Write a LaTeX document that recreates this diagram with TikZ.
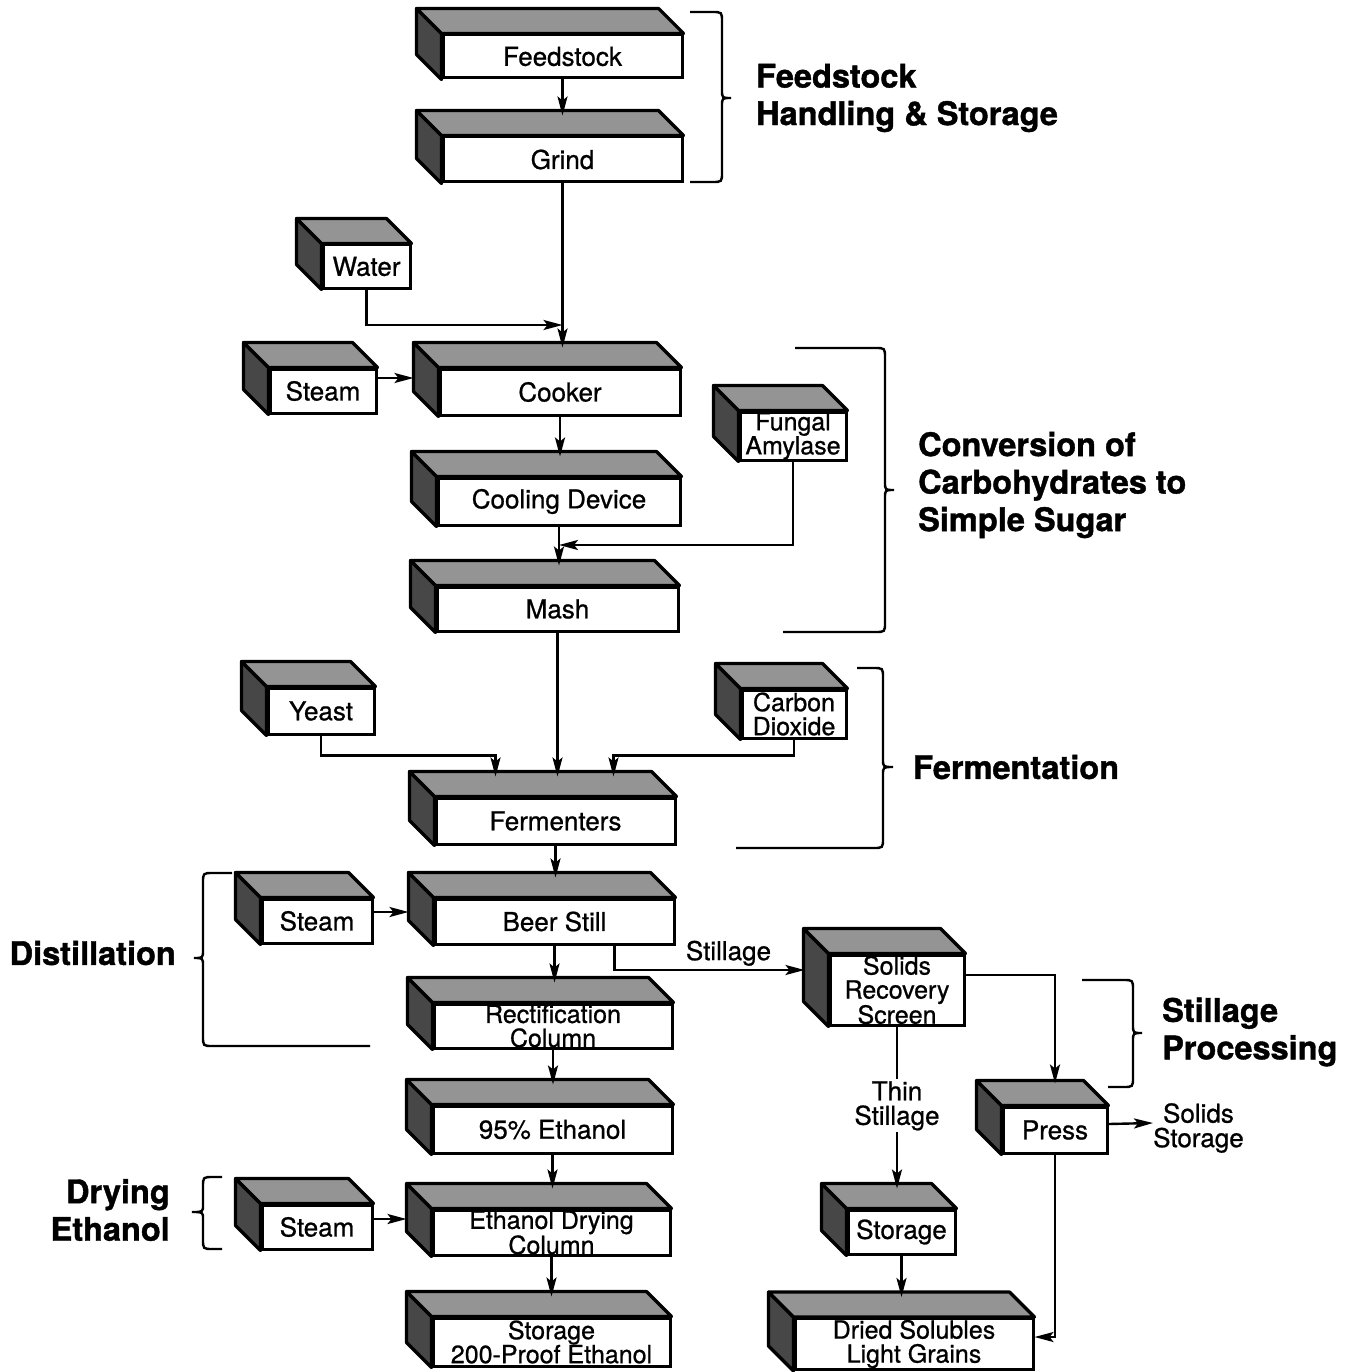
\documentclass[tikz,border=0pt]{standalone}
\usepackage{fontspec}
\setmainfont{TeX Gyre Heros}
\newfontfamily\boxfont{TeX Gyre Heros}[FakeBold=0.8]
\newfontfamily\heavyfont{TeX Gyre Heros}[FakeBold=1.2]
\usetikzlibrary{arrows.meta,calc}
\tikzset{>={Stealth[width=10pt,length=19pt,inset=4pt]}}
\tikzset{
  unit/.style={draw, line width=3pt, fill=white, inner sep=0pt, align=center,
    font=\boxfont\fontsize{26}{22.5}\selectfont},
  twoline/.style={font=\boxfont\fontsize{25}{24}\selectfont},
  flow/.style={->, line width=2.4pt},
  brace/.style={line width=2.4pt},
  group/.style={font=\heavyfont\bfseries\fontsize{32.5}{37.5}\selectfont, inner sep=0pt},
  tag/.style={font=\boxfont\fontsize{26}{24.5}\selectfont, inner sep=0pt, align=center},
}
% shaded top and side of a box
\newcommand\extrude[1]{%
  \filldraw[line width=3.2pt, line join=round, fill=black!72] (#1.north west) -- ++(-25pt,25pt)
    -- ([shift={(-25pt,25pt)}]#1.south west) -- (#1.south west) -- cycle;
  \filldraw[line width=3.2pt, line join=round, fill=black!42] (#1.north west) -- ++(-25pt,25pt)
    -- ([shift={(-25pt,25pt)}]#1.north east) -- (#1.north east) -- cycle;}

\begin{document}
\begin{tikzpicture}[x=1pt,y=-1pt]
\useasboundingbox (0,0) rectangle (1354,1372);

\node[unit, minimum width=239, minimum height=43] (feed) at (562.5,56.5) {Feedstock};
\node[unit, minimum width=239, minimum height=45] (grind) at (562.5,159.5) {Grind};
\node[unit, minimum width=87, minimum height=43] (water) at (366.5,266.5) {Water};
\node[unit, minimum width=106, minimum height=44] (steamA) at (323,391) {Steam};
\node[unit, minimum width=240, minimum height=46] (cooker) at (560,392) {Cooker};
\node[unit, twoline, minimum width=106, minimum height=48] (fungal) at (793,436) {Fungal\\Amylase};
\node[unit, minimum width=242, minimum height=47] (cooling) at (559,501.5) {Cooling Device};
\node[unit, minimum width=241, minimum height=44] (mash) at (557.5,609) {Mash};
\node[unit, minimum width=106, minimum height=46] (yeast) at (321,711) {Yeast};
\node[unit, twoline, minimum width=104, minimum height=48] (carbon) at (794,714) {Carbon\\Dioxide};
\node[unit, minimum width=239, minimum height=46] (ferm) at (555.5,821) {Fermenters};
\node[unit, minimum width=110, minimum height=44] (steamB) at (317,921) {Steam};
\node[unit, minimum width=239, minimum height=45] (beer) at (554.5,921.5) {Beer Still};
\node[unit, twoline, minimum width=134, minimum height=70] (screen) at (897,990) {Solids\\Recovery\\Screen};
\node[unit, twoline, minimum width=238, minimum height=44] (rect) at (553,1026) {Rectification\\Column};
\node[unit, minimum width=239, minimum height=47] (eth95) at (552.5,1129.5) {95\% Ethanol};
\node[unit, minimum width=110, minimum height=44] (steamC) at (317,1227) {Steam};
\node[unit, twoline, minimum width=237, minimum height=45] (drycol) at (551.5,1232.5) {Ethanol Drying\\Column};
\node[unit, twoline, minimum width=237, minimum height=48] (store200) at (551.5,1342) {Storage\\200-Proof Ethanol};
\node[unit, minimum width=107, minimum height=44] (storeR) at (901.5,1232) {Storage};
\node[unit, twoline, minimum width=238, minimum height=51] (dried) at (914,1344) {Dried Solubles\\Light Grains};
\node[unit, minimum width=104, minimum height=46] (press) at (1055,1130) {Press};

\foreach \n in {feed,grind,water,steamA,cooker,fungal,cooling,mash,yeast,carbon,ferm,
  steamB,beer,screen,rect,eth95,steamC,drycol,store200,storeR,dried,press}
  \extrude{\n};

\node[tag, anchor=west] (solstore) at (1153,1128) {Solids\\Storage};

\draw[flow] (feed.south) -- ($(feed.south |- grind.north)+(0,-20)$);
\draw[flow] (grind.south) -- ($(grind.south |- cooker.north)+(0,-20)$);
\draw[flow] (water.south) |- (grind.south |- 0,325);
\draw[flow] ($(steamA.east)+(0,-13)$) -- ($(steamA.east -| cooker.west)+(-25,-13)$);
\draw[flow] (cooker.south) -- ($(cooker.south |- cooling.north)+(0,-20)$);
\draw[flow] (fungal.south) |- (cooling.south |- 0,545);
\draw[flow] (cooling.south) -- ($(cooling.south |- mash.north)+(0,-20)$);
\draw[flow] (mash.south) -- ($(mash.south |- ferm.north)+(0,-20)$);
\coordinate (fermtop) at ($(ferm.north)+(0,-20)$);
\draw[flow] (yeast.south) |- ($(fermtop)+(-60,-21)$) -- ($(fermtop)+(-60,0)$);
\draw[flow] (carbon.south) |- ($(fermtop)+(58,-21)$) -- ($(fermtop)+(58,0)$);
\draw[flow] (ferm.south) -- ($(ferm.south |- beer.north)+(0,-20)$);
\draw[flow] ($(steamB.east)+(0,-9)$) -- ($(steamB.east -| beer.west)+(-25,-9)$);
\draw[flow] (beer.south) -- ($(beer.south |- rect.north)+(0,-20)$);
\draw[flow] ($(beer.south)+(60,0)$) |- ($(screen.west)+(-24,-20)$)
  node[tag, pos=0.8, above=3pt] (stillage) {Stillage};
\draw[flow] (rect.south) -- ($(rect.south |- eth95.north)+(0,-20)$);
\draw[flow] (eth95.south) -- ($(eth95.south |- drycol.north)+(0,-20)$);
\draw[flow] ($(steamC.east)+(0,-8)$) -- ($(steamC.east -| drycol.west)+(-25,-8)$);
\draw[flow] (drycol.south) -- ($(drycol.south |- store200.north)+(0,-20)$);
\draw[flow] (screen.south) -- ($(screen.south |- storeR.north)+(0,-20)$)
  node[tag, pos=0.49, fill=white, inner sep=2pt] (thin) {Thin\\Stillage};
\draw[flow] ($(screen.east)+(0,-15)$) -| ($(press.north)+(0,-22)$);
\draw[flow] ($(press.east)+(0,-6)$) -- ($(solstore.west)+(0,-5)$);
\draw[flow] (press.south) |- ($(dried.east)+(0,-7)$);
\draw[flow] (storeR.south) -- ($(storeR.south |- dried.north)+(0,-20)$);

\draw[brace] (690,12) -- (712,12) .. controls (722,12) .. (722,22) -- (722,90)
  .. controls (722,98) .. (731,98) .. controls (722,98) .. (722,106) -- (722,172)
  .. controls (722,182) .. (712,182) -- (690,182);
\draw[brace] (795,348) -- (875,348) .. controls (885,348) .. (885,358) -- (885,482)
  .. controls (885,490) .. (894,490) .. controls (885,490) .. (885,498) -- (885,622)
  .. controls (885,632) .. (875,632) -- (783,632);
\draw[brace] (857,668) -- (873,668) .. controls (883,668) .. (883,678) -- (883,759)
  .. controls (883,767) .. (893,767) .. controls (883,767) .. (883,775) -- (883,838)
  .. controls (883,848) .. (873,848) -- (736,848);
\draw[brace] (232,873) -- (213,873) .. controls (203,873) .. (203,883) -- (203,950)
  .. controls (203,958) .. (194,958) .. controls (203,958) .. (203,966) -- (203,1036)
  .. controls (203,1046) .. (213,1046) -- (370,1046);
\draw[brace] (222,1177) -- (213,1177) .. controls (203,1177) .. (203,1187) -- (203,1205)
  .. controls (203,1212) .. (192,1212) .. controls (203,1212) .. (203,1219) -- (203,1239)
  .. controls (203,1249) .. (213,1249) -- (222,1249);
\draw[brace] (1082,980) -- (1123,980) .. controls (1133,980) .. (1133,990) -- (1133,1025)
  .. controls (1133,1033) .. (1142,1033) .. controls (1133,1033) .. (1133,1041) -- (1133,1077)
  .. controls (1133,1087) .. (1123,1087) -- (1108,1087);

\node[group, anchor=west, align=left] (handling) at (756,98) {Feedstock\\Handling \& Storage};
\node[group, anchor=west, align=left] (conversion) at (918,485) {Conversion of\\Carbohydrates to\\Simple Sugar};
\node[group, anchor=west] (fermentation) at (913,767) {Fermentation};
\node[group, anchor=east] (distillation) at (176,953) {Distillation};
\node[group, anchor=east, align=right] (drying) at (170,1210) {Drying\\Ethanol};
\node[group, anchor=west, align=left] (processing) at (1162,1032) {Stillage\\Processing};

\end{tikzpicture}
\end{document}
